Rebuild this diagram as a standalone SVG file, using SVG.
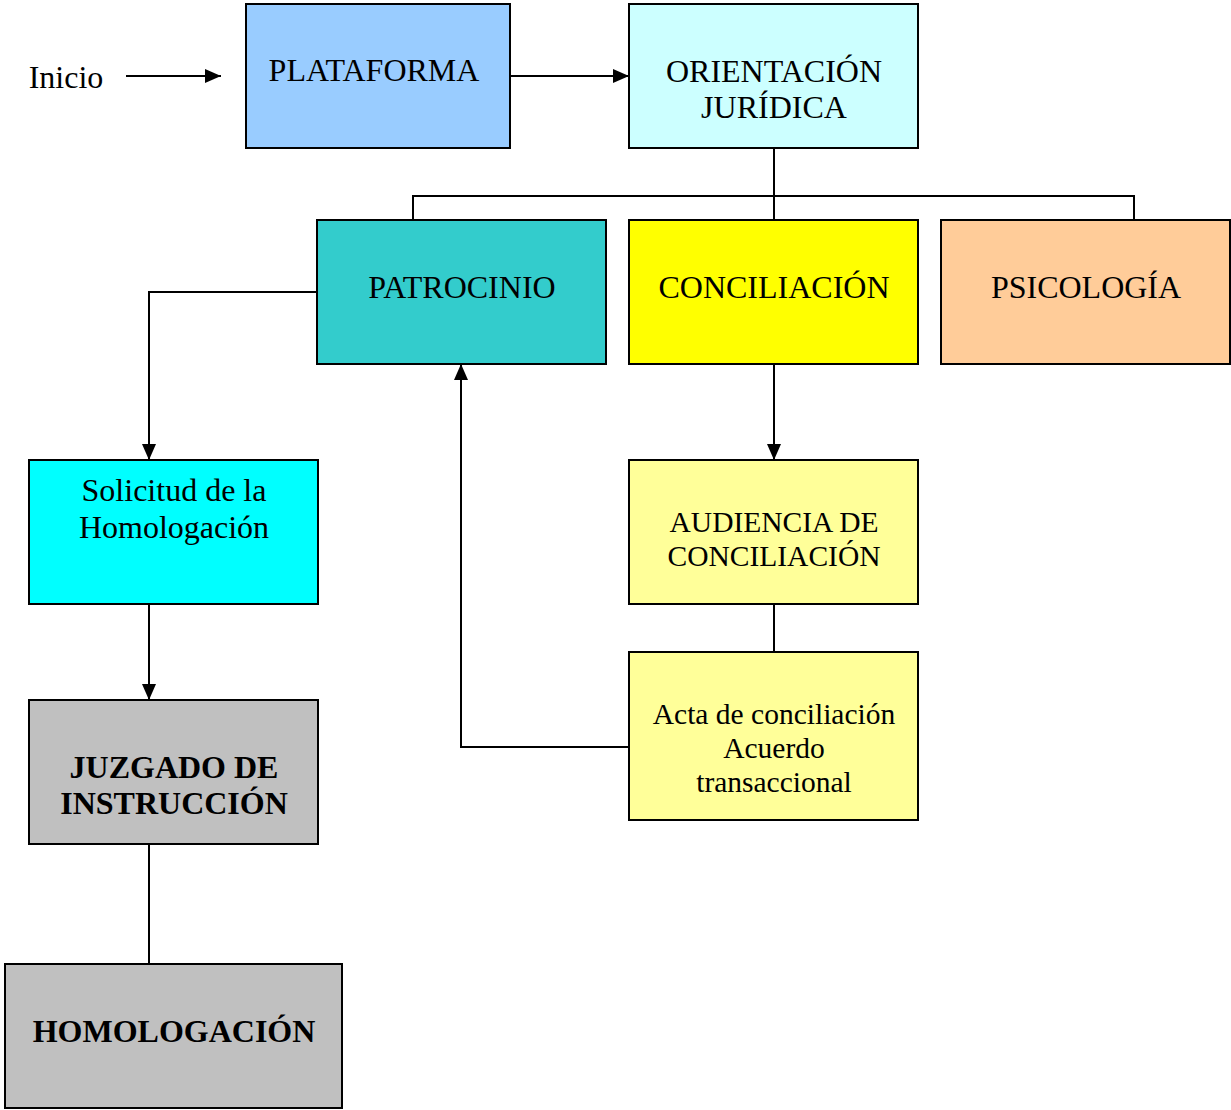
<svg xmlns="http://www.w3.org/2000/svg" width="1231" height="1110" viewBox="0 0 1231 1110">
<style>
.box{stroke:#000;stroke-width:2}
.t{font-family:"Liberation Serif","Times New Roman",serif;font-size:32px;fill:#000;text-anchor:middle}
.s{font-size:29.5px}
.b{font-weight:bold}
.c{fill:none;stroke:#000;stroke-width:2}
</style>
<defs>
<marker id="ah" markerWidth="16" markerHeight="14" refX="16" refY="7" orient="auto" markerUnits="userSpaceOnUse">
<path d="M0,0 L16,7 L0,14 Z" fill="#000"/>
</marker>
</defs>
<rect width="1231" height="1110" fill="#fff"/>
<g id="connectors">
<path class="c" d="M126,76 H221" stroke-width="2.5" marker-end="url(#ah)"/>
<path class="c" d="M510,76 H629" stroke-width="2.5" marker-end="url(#ah)"/>
<path class="c" d="M774,148 V220"/>
<path class="c" d="M413,220 V196 H1134 V220"/>
<path class="c" d="M317,292 H149 V460" marker-end="url(#ah)"/>
<path class="c" d="M774,364 V460" marker-end="url(#ah)"/>
<path class="c" d="M149,604 V700" marker-end="url(#ah)"/>
<path class="c" d="M774,604 V652"/>
<path class="c" d="M629,747 H461 V364" marker-end="url(#ah)"/>
<path class="c" d="M149,844 V964"/>
</g>
<g id="inicio"><text class="t" x="66" y="88">Inicio</text></g>
<g id="plataforma"><rect class="box" x="246" y="4" width="264" height="144" fill="#99CCFF"/><text class="t" x="374" y="81" font-size="33">PLATAFORMA</text></g>
<g id="orientacion"><rect class="box" x="629" y="4" width="289" height="144" fill="#CCFFFF"/><text class="t" x="774" y="82">ORIENTACIÓN</text><text class="t" x="774" y="118">JURÍDICA</text></g>
<g id="patrocinio"><rect class="box" x="317" y="220" width="289" height="144" fill="#33CCCC"/><text class="t" x="462" y="298">PATROCINIO</text></g>
<g id="conciliacion"><rect class="box" x="629" y="220" width="289" height="144" fill="#FFFF00"/><text class="t" x="774" y="298">CONCILIACIÓN</text></g>
<g id="psicologia"><rect class="box" x="941" y="220" width="289" height="144" fill="#FFCC99"/><text class="t" x="1086" y="298">PSICOLOGÍA</text></g>
<g id="solicitud"><rect class="box" x="29" y="460" width="289" height="144" fill="#00FFFF"/><text class="t" x="174" y="501">Solicitud de la</text><text class="t" x="174" y="538">Homologación</text></g>
<g id="audiencia"><rect class="box" x="629" y="460" width="289" height="144" fill="#FFFF99"/><text class="t s" x="774" y="532">AUDIENCIA DE</text><text class="t s" x="774" y="566">CONCILIACIÓN</text></g>
<g id="acta"><rect class="box" x="629" y="652" width="289" height="168" fill="#FFFF99"/><text class="t s" x="774" y="724">Acta de conciliación</text><text class="t s" x="774" y="758">Acuerdo</text><text class="t s" x="774" y="792">transaccional</text></g>
<g id="juzgado"><rect class="box" x="29" y="700" width="289" height="144" fill="#C0C0C0"/><text class="t b" x="174" y="778">JUZGADO DE</text><text class="t b" x="174" y="814">INSTRUCCIÓN</text></g>
<g id="homologacion"><rect class="box" x="5" y="964" width="337" height="144" fill="#C0C0C0"/><text class="t b" x="174" y="1042">HOMOLOGACIÓN</text></g>
</svg>
